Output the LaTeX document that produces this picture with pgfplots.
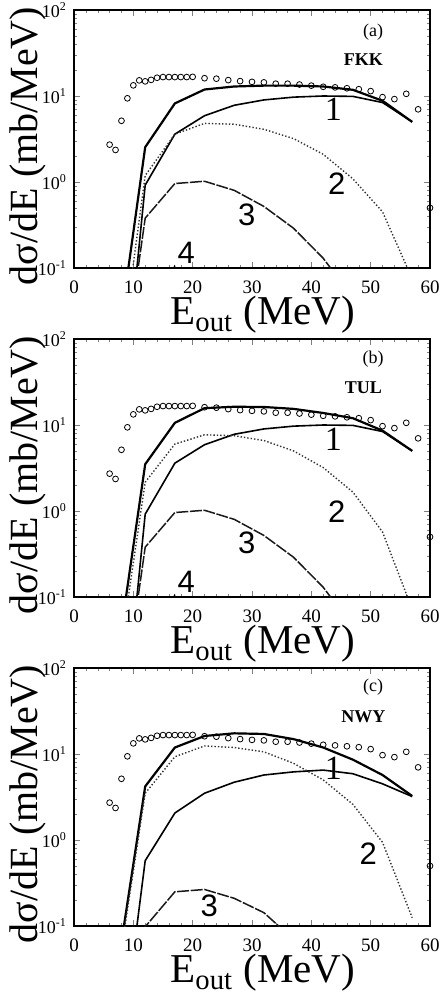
\documentclass[border=0pt]{standalone}
\usepackage{fontspec}
\setmainfont{Liberation Serif}
\newfontfamily\sansf{Liberation Sans}
\usepackage{pgfplots}
\pgfplotsset{compat=1.18}

\tikzset{
  tot/.style={black, line width=1.1pt},
  cone/.style={black, line width=0.8pt},
  ctwo/.style={black!80, densely dotted, line width=0.7pt},
  cthree/.style={black!90, dash pattern=on 6pt off 0.8pt, line width=0.75pt},
  cfour/.style={black, dashed, line width=0.7pt},
  expt/.style={only marks, mark=o, mark size=1.45pt, black, line width=0.4pt},
  numlab/.style={font=\sansf\fontsize{15.5}{16}\selectfont},
  onelab/.style={font=\fontsize{17}{18}\selectfont},
  ann/.style={font=\fontsize{9}{10}\selectfont},
  annb/.style={font=\bfseries\fontsize{9}{10}\selectfont},
}

\pgfplotstableread{
E y
6 2.72
7 2.36
8 5.15
9 9.4
10 13.3
11 15.2
12 14.8
13 15.4
14 16.3
15 16.6
16 16.6
17 16.6
18 16.6
19 16.6
20 16.7
22 16.1
24 15.9
26 15.3
28 14.9
30 14.6
32 14.4
34 13.9
36 13.9
38 13.6
40 13.2
42 12.8
44 12.6
46 12.3
48 12.0
50 11.4
52 9.7
54 9.2
56 10.6
58 7.0
60 0.5
}\expdata

\pgfplotstableread{
E tot c1 c2 c3 c4
7 0.0085 0.00033 0.0032 0.0014 0.0005
12 2.54 0.92 1.19 0.38 0.02
17 8.2 3.6 3.6 0.96 0.106
22 11.9 5.9 4.8 1.02 0.08
27 12.9 7.8 4.7 0.80 0.02
32 13.2 9.0 4.1 0.52 0.005
37 13.2 9.7 3.2 0.29 0.001
42 12.9 10.0 2.1 0.13 0.0005
47 11.8 9.9 1.09 0.045 0.0001
52 8.8 8.4 0.45 0.01 0.0001
57 5.0 5.0 0.075 0.002 0.0001
}\fkk

\pgfplotstableread{
E tot c1 c2 c3 c4
7 0.0145 0.00033 0.0097 0.0014 0.0005
12 3.5 0.92 2.16 0.38 0.02
17 10.6 3.6 6.0 0.96 0.106
22 15.7 5.9 7.7 1.02 0.08
27 16.3 7.8 7.5 0.80 0.02
32 16.2 9.0 6.6 0.52 0.005
37 15.4 9.7 5.0 0.29 0.001
42 13.8 10.0 3.2 0.13 0.0005
47 12.0 9.9 1.66 0.045 0.0001
52 8.6 8.4 0.57 0.01 0.0001
57 5.0 5.0 0.072 0.002 0.0001
}\tul

\pgfplotstableread{
E tot c1 c2 c3
7 0.023 0.0011 0.019 0.005
12 4.2 0.575 3.5 0.098
17 11.9 2.06 9.3 0.25
22 16.2 3.5 12.4 0.266
27 17.4 4.7 11.9 0.21
32 17.1 5.7 10.6 0.143
37 14.9 6.2 7.8 0.07
42 11.9 6.5 5.0 0.03
47 8.6 5.9 2.6 0.01
52 5.7 4.5 0.94 0.003
57 3.25 3.2 0.125 0.001
}\nwy

\pgfplotsset{
  every axis/.append style={
    width=178pt, height=129pt, scale only axis,
    xmin=0, xmax=60, ymin=0.1, ymax=100,
    xtick={0,10,20,30,40,50,60}, minor x tick num=4,
    ytick={0.1,1,10,100},
    yticklabels={10\textsuperscript{-1},10\textsuperscript{0},10\textsuperscript{1},10\textsuperscript{2}},
    tick align=inside,
    major tick length=3pt, minor tick length=1.5pt,
    axis line style={line width=0.8pt},
    xticklabel style={font=\fontsize{9.5}{10}\selectfont, yshift=-3pt},
    yticklabel style={font=\fontsize{9}{10}\selectfont},
    xlabel style={font=\fontsize{20.5}{24}\selectfont, at={(axis description cs:0.53,-0.2202)}, anchor=base},
    ylabel style={font=\fontsize{20}{24}\selectfont, at={(axis description cs:-0.1039,0.473)}, anchor=base},
  },
}

\begin{document}
\begin{tikzpicture}
% ---- panel (a)
\begin{semilogyaxis}[at={(0pt,0pt)}, anchor=north west,
  xticklabels={0,10,20,30,40,50,60},
  xlabel={E\textsubscript{out} (MeV)}, ylabel={dσ/dE (mb/MeV)}]
\addplot[expt] table[x=E,y=y] {\expdata};
\addplot[tot] table[x=E,y=tot] {\fkk};
\addplot[cone] table[x=E,y=c1] {\fkk};
\addplot[ctwo] table[x=E,y=c2] {\fkk};
\addplot[cthree] table[x=E,y=c3] {\fkk};
\addplot[cfour] table[x=E,y=c4] {\fkk};
\node[ann] at (rel axis cs:0.84,0.915) {(a)};
\node[annb] at (rel axis cs:0.813,0.806) {FKK};
\node[onelab] at (axis cs:43.7,7.0) {1};
\node[numlab] at (axis cs:44.3,0.96) {2};
\node[numlab] at (axis cs:29.1,0.42) {3};
\node[numlab] at (axis cs:18.9,0.152) {4};
\end{semilogyaxis}
% ---- panel (b)
\begin{semilogyaxis}[at={(0pt,-164.5pt)}, anchor=north west,
  xticklabels={0,10,20,30,40,50,60},
  xlabel={E\textsubscript{out} (MeV)}, ylabel={dσ/dE (mb/MeV)}]
\addplot[expt] table[x=E,y=y] {\expdata};
\addplot[tot] table[x=E,y=tot] {\tul};
\addplot[cone] table[x=E,y=c1] {\tul};
\addplot[ctwo] table[x=E,y=c2] {\tul};
\addplot[cthree] table[x=E,y=c3] {\tul};
\addplot[cfour] table[x=E,y=c4] {\tul};
\node[ann] at (rel axis cs:0.84,0.92) {(b)};
\node[annb] at (rel axis cs:0.813,0.813) {TUL};
\node[onelab] at (axis cs:43.7,6.9) {1};
\node[numlab] at (axis cs:44.3,0.97) {2};
\node[numlab] at (axis cs:29.1,0.43) {3};
\node[numlab] at (axis cs:18.9,0.149) {4};
\end{semilogyaxis}
% ---- panel (c)
\begin{semilogyaxis}[at={(0pt,-329pt)}, anchor=north west,
  xticklabels={0,10,20,30,40,50,60},
  xlabel={E\textsubscript{out} (MeV)}, ylabel={dσ/dE (mb/MeV)}]
\addplot[expt] table[x=E,y=y] {\expdata};
\addplot[tot] table[x=E,y=tot] {\nwy};
\addplot[cone] table[x=E,y=c1] {\nwy};
\addplot[ctwo] table[x=E,y=c2] {\nwy};
\addplot[cthree] table[x=E,y=c3] {\nwy};
\node[ann] at (rel axis cs:0.84,0.925) {(c)};
\node[annb] at (rel axis cs:0.813,0.81) {NWY};
\node[onelab] at (axis cs:43.7,6.8) {1};
\node[numlab] at (axis cs:49.6,0.70) {2};
\node[numlab] at (axis cs:22.8,0.171) {3};
\end{semilogyaxis}
\pgfresetboundingbox
\useasboundingbox (-37pt,5pt) rectangle (183.5pt,-492pt);
\end{tikzpicture}
\end{document}
